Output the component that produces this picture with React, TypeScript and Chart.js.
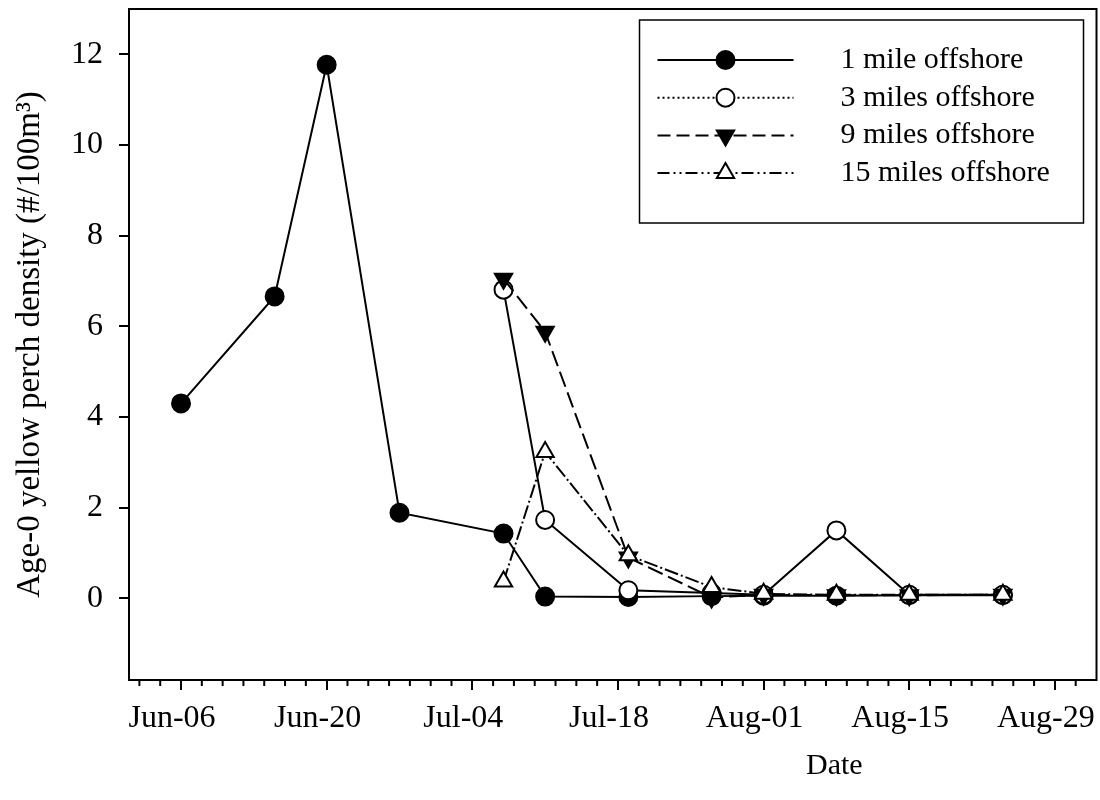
import React, { useEffect, useRef } from 'react';
import { Chart, registerables } from 'chart.js';
import { drawPoint } from 'chart.js/helpers';

Chart.register(...registerables);

// x values are days counted from Jun-01 (Jun-01 = 0)
const X_MIN = 0;
const X_MAX = 93;
const TICK_DAYS = [5, 19, 33, 47, 61, 75, 89];
const TICK_LABELS = ['Jun-06', 'Jun-20', 'Jul-04', 'Jul-18', 'Aug-01', 'Aug-15', 'Aug-29'];
const MINOR_DAYS = [1, 3, 7, 9, 11, 13, 15, 17, 21, 23, 25, 27, 29, 31, 35, 37, 39, 41, 43, 45, 49, 51, 53, 55, 57, 59, 63, 65, 67, 69, 71, 73, 77, 79, 81, 83, 85, 87, 91];
const Y_MIN = -1.8;
const Y_MAX = 13;
const Y_TICKS = [0, 2, 4, 6, 8, 10, 12];

const SERIES_LABELS = ['1 mile offshore', '3 miles offshore', '9 miles offshore', '15 miles offshore'];

const DAYS_1MI = [5, 14, 19, 26, 36, 40, 48, 56, 61, 68, 75, 84];
const VALUES_1MI = [4.3, 6.66, 11.77, 1.89, 1.43, 0.04, 0.03, 0.05, 0.06, 0.06, 0.07, 0.07];

const DAYS_OFFSHORE = [36, 40, 48, 56, 61, 68, 75, 84];
const VALUES_3MI = [6.81, 1.73, 0.18, 0.12, 0.08, 1.5, 0.08, 0.08];
const VALUES_9MI = [7.05, 5.88, 0.9, 0.02, 0.08, 0.07, 0.07, 0.08];
const VALUES_15MI = [0.37, 3.23, 0.95, 0.25, 0.1, 0.08, 0.08, 0.08];

const FONT = "'Liberation Serif', 'Times New Roman', serif";

const LEGEND_DASH = [[], [2, 3], [13, 6], [12, 4, 2, 4, 2, 4]];

const toPoints = (xs: number[], ys: number[]) => xs.map((x, i) => ({ x, y: ys[i] }));

const zeroPadding = (scale: any) => {
  scale.paddingTop = 0;
  scale.paddingBottom = 0;
  scale.paddingLeft = 0;
  scale.paddingRight = 0;
};

const overlayPlugin = {
  id: 'overlay',
  afterDraw(chart: any) {
    const { ctx, chartArea: a, scales } = chart;
    ctx.save();
    // frame
    ctx.strokeStyle = '#000';
    ctx.lineWidth = 2;
    ctx.setLineDash([]);
    ctx.strokeRect(a.left, a.top, a.right - a.left, a.bottom - a.top);
    // minor x ticks
    const xs = scales.x;
    ctx.beginPath();
    MINOR_DAYS.forEach((d) => {
      const px = xs.getPixelForValue(d);
      ctx.moveTo(px, a.bottom);
      ctx.lineTo(px, a.bottom + 6);
    });
    ctx.stroke();

    // x axis title
    ctx.fillStyle = '#000';
    ctx.font = `30px ${FONT}`;
    ctx.textAlign = 'center';
    ctx.textBaseline = 'middle';
    ctx.fillText('Date', a.left + 0.729 * (a.right - a.left), a.bottom + 86);

    // legend
    const bx0 = a.right - 457;
    const bx1 = a.right - 13;
    const by0 = a.top + 11;
    const by1 = a.top + 214;
    ctx.lineWidth = 1.5;
    ctx.strokeRect(bx0, by0, bx1 - bx0, by1 - by0);
    chart.data.datasets.forEach((ds: any, i: number) => {
      const y = by0 + 40 + i * 37.7;
      ctx.save();
      ctx.strokeStyle = '#000';
      ctx.lineWidth = 2;
      ctx.setLineDash(LEGEND_DASH[i]);
      ctx.beginPath();
      ctx.moveTo(bx0 + 18, y);
      ctx.lineTo(bx0 + 154, y);
      ctx.stroke();
      ctx.setLineDash([]);
      ctx.fillStyle = ds.pointBackgroundColor;
      ctx.strokeStyle = ds.pointBorderColor;
      ctx.lineWidth = ds.pointBorderWidth;
      drawPoint(ctx, {
        pointStyle: ds.pointStyle,
        radius: ds.pointRadius,
        rotation: ds.pointRotation || 0,
        borderWidth: ds.pointBorderWidth,
      }, bx0 + 86, y);
      ctx.restore();
      ctx.fillStyle = '#000';
      ctx.font = `30px ${FONT}`;
      ctx.textAlign = 'left';
      ctx.textBaseline = 'middle';
      ctx.fillText(ds.label, bx0 + 201, y);
    });
    ctx.restore();
  },
};

export default function App() {
  const ref = useRef<HTMLCanvasElement | null>(null);

  useEffect(() => {
    document.body.style.margin = '0';
    const canvas = ref.current;
    if (!canvas) return;
    const common = {
      showLine: true,
      borderColor: '#000',
      borderWidth: 2,
      pointBorderColor: '#000',
      pointBorderWidth: 2,
      tension: 0,
    };
    const chart = new Chart(canvas, {
      type: 'scatter',
      data: {
        datasets: [
          {
            ...common,
            label: SERIES_LABELS[0],
            data: toPoints(DAYS_1MI, VALUES_1MI),
            pointStyle: 'circle',
            pointRadius: 9,
            pointBackgroundColor: '#000',
            borderDash: [],
            order: 4,
          },
          {
            ...common,
            label: SERIES_LABELS[1],
            data: toPoints(DAYS_OFFSHORE, VALUES_3MI),
            pointStyle: 'circle',
            pointRadius: 9,
            pointBackgroundColor: '#fff',
            borderDash: [],
            order: 3,
          },
          {
            ...common,
            label: SERIES_LABELS[2],
            data: toPoints(DAYS_OFFSHORE, VALUES_9MI),
            pointStyle: 'triangle',
            pointRotation: 180,
            pointRadius: 10,
            pointBackgroundColor: '#000',
            borderDash: [16, 6],
            order: 2,
          },
          {
            ...common,
            label: SERIES_LABELS[3],
            data: toPoints(DAYS_OFFSHORE, VALUES_15MI),
            pointStyle: 'triangle',
            pointRadius: 10,
            pointBackgroundColor: '#fff',
            borderDash: [14, 3, 2, 3],
            order: 1,
          },
        ] as any,
      },
      options: {
        animation: false,
        responsive: false,
        events: [],
        layout: { autoPadding: false, padding: { top: 9, right: 3.5, left: 0, bottom: 0 } },
        plugins: {
          legend: { display: false },
          tooltip: { enabled: false },
        },
        scales: {
          x: {
            type: 'linear',
            min: X_MIN,
            max: X_MAX,
            afterBuildTicks: (scale: any) => {
              scale.ticks = TICK_DAYS.map((v) => ({ value: v }));
            },
            afterFit: (scale: any) => {
              scale.height = 120;
              zeroPadding(scale);
            },
            border: { display: false },
            grid: {
              drawOnChartArea: false,
              drawTicks: true,
              tickLength: 10,
              lineWidth: 2,
              tickColor: '#000',
            },
            ticks: {
              autoSkip: false,
              maxRotation: 0,
              minRotation: 0,
              labelOffset: -9,
              padding: 9,
              color: '#000',
              font: { family: FONT, size: 32 },
              callback: (v: any) => {
                const i = TICK_DAYS.indexOf(Number(v));
                return i >= 0 ? TICK_LABELS[i] : '';
              },
            },
          },
          y: {
            type: 'linear',
            min: Y_MIN,
            max: Y_MAX,
            afterBuildTicks: (scale: any) => {
              scale.ticks = Y_TICKS.map((v) => ({ value: v }));
            },
            afterFit: (scale: any) => {
              scale.width = 129;
              zeroPadding(scale);
            },
            border: { display: false },
            grid: {
              drawOnChartArea: false,
              drawTicks: true,
              tickLength: 10,
              lineWidth: 2,
              tickColor: '#000',
            },
            ticks: {
              padding: 16,
              color: '#000',
              font: { family: FONT, size: 32 },
              callback: (v: any) => String(v),
            },
            title: {
              display: true,
              text: 'Age-0 yellow perch density (#/100m³)',
              color: '#000',
              font: { family: FONT, size: 33 },
              padding: { top: 11, bottom: 0 },
            },
          },
        },
      },
      plugins: [overlayPlugin],
    } as any);
    return () => chart.destroy();
  }, []);

  return (
    <div style={{ width: 1100, height: 800 }}>
      <canvas ref={ref} width={1100} height={800} style={{ display: 'block' }} />
    </div>
  );
}
